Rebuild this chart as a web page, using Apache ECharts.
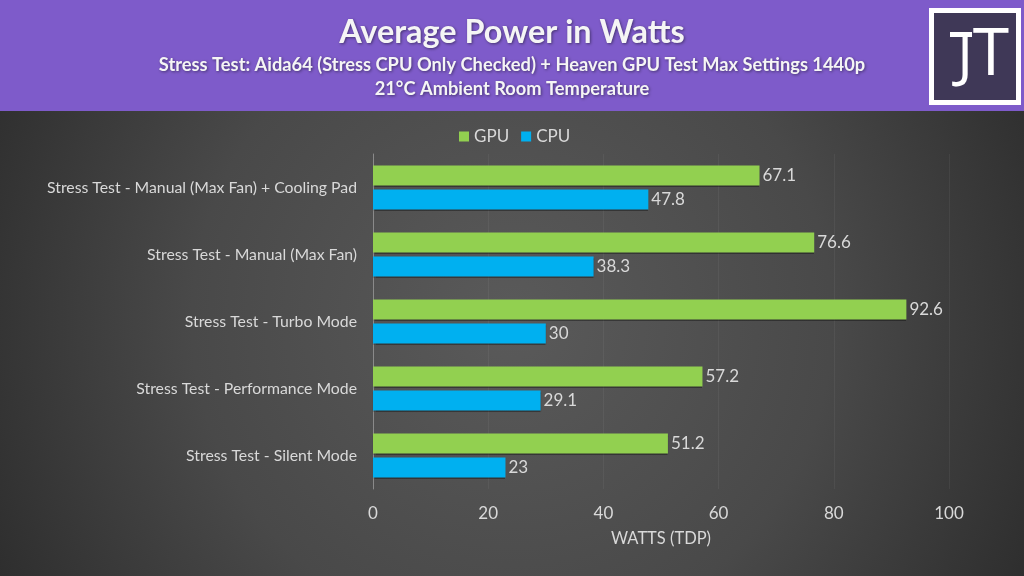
<!DOCTYPE html>
<html>
<head>
<meta charset="utf-8">
<style>
  html, body { margin: 0; padding: 0; background: #333; }
  #chart { width: 1024px; height: 576px; }
</style>
<script src="https://cdn.jsdelivr.net/npm/echarts@6/dist/echarts.min.js"></script>
</head>
<body>
<div id="chart"></div>
<script>
const categories = [
  'Stress Test - Manual (Max Fan) + Cooling Pad',
  'Stress Test - Manual (Max Fan)',
  'Stress Test - Turbo Mode',
  'Stress Test - Performance Mode',
  'Stress Test - Silent Mode'
];
const gpuValues = [67.1, 76.6, 92.6, 57.2, 51.2];
const cpuValues = [47.8, 38.3, 30, 29.1, 23];
const xTicks = [0, 20, 40, 60, 80, 100];

const FONT = 'Lato';

function headText(text, top, size) {
  return {
    text: text,
    left: 'center',
    top: top,
    padding: 0,
    textStyle: {
      fontFamily: FONT,
      fontSize: size,
      fontWeight: 'bold',
      color: '#f5f5f5',
      textShadowColor: 'rgba(0,0,0,0.45)',
      textShadowBlur: 3,
      textShadowOffsetX: 1,
      textShadowOffsetY: 1
    }
  };
}

function barSeries(name, values, color) {
  return {
    name: name,
    type: 'bar',
    data: values,
    barWidth: 20,
    barGap: '20%',
    itemStyle: {
      color: color,
      shadowColor: 'rgba(0,0,0,0.35)',
      shadowBlur: 1,
      shadowOffsetY: 1
    },
    label: {
      show: true,
      position: 'right',
      distance: 3,
      fontFamily: FONT,
      fontSize: 17,
      color: '#d9d9d9'
    }
  };
}

function logoLetter(text, x, y, size) {
  return {
    type: 'text',
    z: 5,
    silent: true,
    x: x,
    y: y,
    style: {
      text: text,
      fontFamily: 'Open Sans',
      fontSize: size,
      fill: '#ffffff',
      align: 'center',
      verticalAlign: 'middle'
    }
  };
}

const chart = echarts.init(document.getElementById('chart'));
chart.setOption({
  animation: false,
  backgroundColor: '#333',
  title: [
    headText('Average Power in Watts', 17, 32.4),
    headText('Stress Test: Aida64 (Stress CPU Only Checked) + Heaven GPU Test Max Settings 1440p', 56, 18.3),
    headText('21°C Ambient Room Temperature', 80, 18.3)
  ],
  legend: {
    data: ['GPU', 'CPU'],
    left: 459,
    top: 128,
    padding: 0,
    icon: 'rect',
    itemWidth: 10,
    itemHeight: 10,
    itemGap: 12,
    textStyle: { fontFamily: FONT, fontSize: 17, color: '#d9d9d9' }
  },
  grid: { left: 373, right: 75, top: 154, bottom: 87 },
  xAxis: {
    type: 'value',
    min: 0,
    max: 100,
    interval: xTicks[1] - xTicks[0],
    name: 'WATTS (TDP)',
    nameLocation: 'middle',
    nameGap: 41,
    nameTextStyle: { fontFamily: FONT, fontSize: 16.5, color: '#d9d9d9' },
    axisLine: { show: false },
    axisTick: { show: false },
    axisLabel: { margin: 16, fontFamily: FONT, fontSize: 17, color: '#d9d9d9' },
    splitLine: { lineStyle: { color: 'rgba(255,255,255,0.05)', width: 1 } }
  },
  yAxis: {
    type: 'category',
    data: categories,
    inverse: true,
    axisLine: { show: true, lineStyle: { color: '#8a8a8a', width: 1 } },
    axisTick: { show: false },
    axisLabel: { margin: 16, fontFamily: FONT, fontSize: 15.8, color: '#d9d9d9' }
  },
  series: [
    barSeries('GPU', gpuValues, '#92d050'),
    barSeries('CPU', cpuValues, '#00b0f0')
  ],
  graphic: [
    {
      type: 'rect',
      z: -10,
      silent: true,
      shape: { x: 0, y: 111, width: 1024, height: 465 },
      style: {
        fill: {
          type: 'radial', x: 512, y: 320, r: 640, global: true,
          colorStops: [
            { offset: 0, color: '#5a5a5a' },
            { offset: 0.5, color: '#494949' },
            { offset: 1, color: '#272727' }
          ]
        }
      }
    },
    { type: 'rect', z: -9, silent: true, shape: { x: 0, y: 0, width: 1024, height: 111 }, style: { fill: '#7e5bca' } },
    { type: 'rect', z: -8, silent: true, shape: { x: 929, y: 8, width: 92, height: 97 }, style: { fill: '#ffffff' } },
    { type: 'rect', z: -7, silent: true, shape: { x: 934, y: 13, width: 82, height: 87 }, style: { fill: '#3f3857' } },
    { type: 'rect', z: 5, silent: true, shape: { x: 950, y: 32, width: 22, height: 5 }, style: { fill: '#ffffff' } },
    logoLetter('J', 965, 58, 60),
    logoLetter('T', 991, 56, 66)
  ]
});
</script>
</body>
</html>
